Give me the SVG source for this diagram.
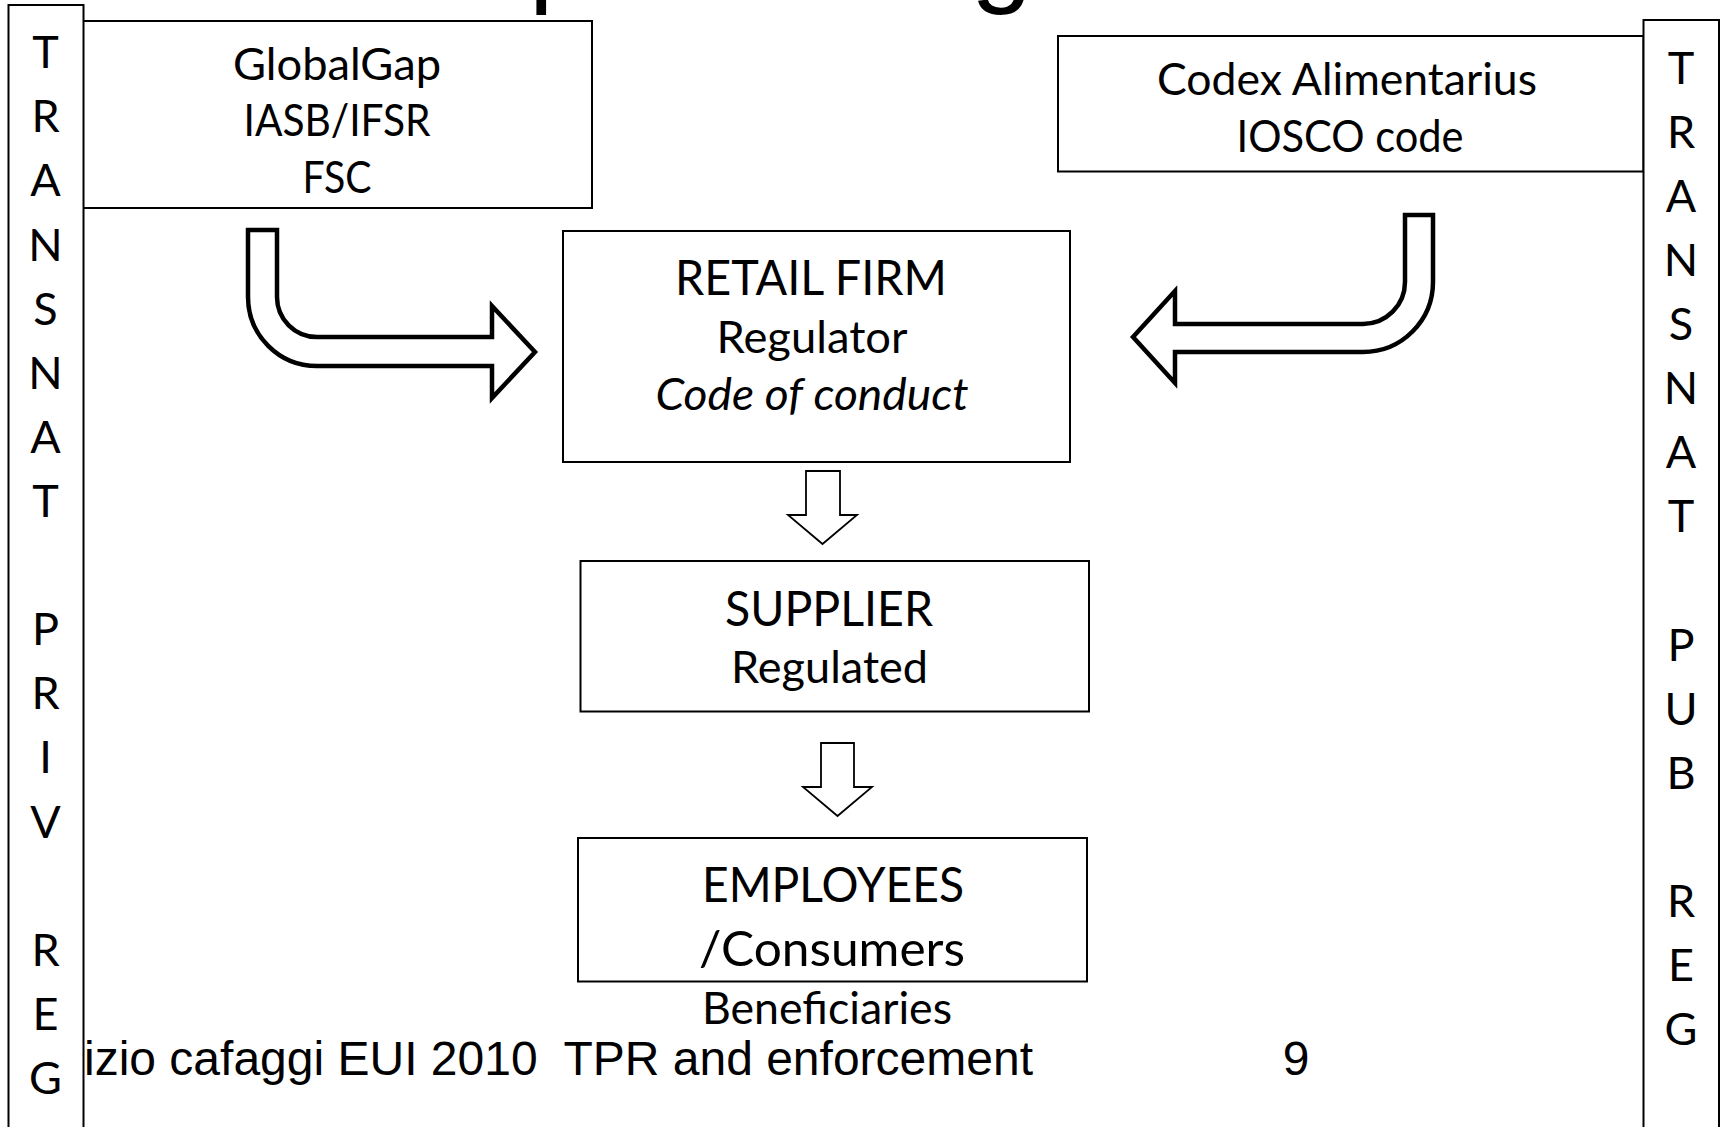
<svg xmlns="http://www.w3.org/2000/svg" width="1721" height="1127" viewBox="0 0 1721 1127">
<style>
  .box{fill:#fff;stroke:#000;stroke-width:2}
  .bar{fill:#fff;stroke:#000;stroke-width:2}
  .t{font-family:Lato,"Open Sans","DejaVu Sans",sans-serif;fill:#000;text-anchor:middle}
  .b{font-size:44px}
  .h{font-size:49px}
  .i{font-style:italic}
  .v{font-family:Lato,"Open Sans","DejaVu Sans",sans-serif;font-size:45px;fill:#000;text-anchor:middle}
  .ft{font-family:"Liberation Sans",Arial,sans-serif;font-size:48px;fill:#000}
  .title{font-family:"Liberation Sans",Arial,sans-serif;font-size:110px;fill:#000}
  .big{fill:#fff;stroke:#000;stroke-width:4.5;stroke-linejoin:miter}
  .small{fill:#fff;stroke:#000;stroke-width:1.8;stroke-linejoin:miter}
</style>
<rect x="0" y="0" width="1721" height="1127" fill="#fff"/>

<g id="title-fragment">
  <text class="title" y="-8"><tspan x="529">p</tspan><tspan x="971">g</tspan></text>
</g>

<g id="footer">
  <text class="ft" x="84" y="1075" xml:space="preserve">izio cafaggi EUI 2010  TPR and enforcement</text>
  <text class="ft" x="1296" y="1075" text-anchor="middle">9</text>
</g>

<g id="node-globalgap">
  <rect class="box" x="83" y="21" width="509" height="187"/>
  <text class="t b" x="337" y="80" textLength="208" lengthAdjust="spacingAndGlyphs">GlobalGap</text>
  <text class="t b" x="337" y="135.5" textLength="187" lengthAdjust="spacingAndGlyphs">IASB/IFSR</text>
  <text class="t b" x="337" y="192.5" textLength="69" lengthAdjust="spacingAndGlyphs">FSC</text>
</g>

<g id="node-codex">
  <rect class="box" x="1058" y="36" width="585.5" height="135.5"/>
  <text class="t b" x="1347" y="94.5" textLength="380" lengthAdjust="spacingAndGlyphs">Codex Alimentarius</text>
  <text class="t b" x="1350" y="151.5" textLength="227" lengthAdjust="spacingAndGlyphs">IOSCO code</text>
</g>

<g id="node-retail">
  <rect class="box" x="563" y="231" width="507" height="231"/>
  <text class="t h" x="811" y="294.5" textLength="272" lengthAdjust="spacingAndGlyphs">RETAIL FIRM</text>
  <text class="t b" x="812" y="352.5" textLength="191" lengthAdjust="spacingAndGlyphs">Regulator</text>
  <text class="t b i" x="812" y="410" textLength="313" lengthAdjust="spacingAndGlyphs">Code of conduct</text>
</g>

<g id="node-supplier">
  <rect class="box" x="580.5" y="561" width="508.5" height="150.5"/>
  <text class="t h" x="829" y="625.5" textLength="208" lengthAdjust="spacingAndGlyphs">SUPPLIER</text>
  <text class="t b" x="829.5" y="682.5" textLength="197" lengthAdjust="spacingAndGlyphs">Regulated</text>
</g>

<g id="node-employees">
  <rect class="box" x="578" y="838" width="509" height="143.5"/>
  <text class="t h" x="833" y="901.5" textLength="262" lengthAdjust="spacingAndGlyphs">EMPLOYEES</text>
  <text class="t h" x="832" y="965.5" textLength="266" lengthAdjust="spacingAndGlyphs">/Consumers</text>
</g>

<g id="label-beneficiaries">
  <text class="t b" x="827" y="1023.5" textLength="250" lengthAdjust="spacingAndGlyphs">Beneficiaries</text>
</g>

<g id="connectors">
  <path class="big" d="M248 230 L277 230 L277 297 A40 40 0 0 0 317 337 L492 337 L492 306 L535 352 L492 398 L492 366 L317 366 A69 69 0 0 1 248 297 Z"/>
  <path class="big" d="M1405 215 L1433 215 L1433 282 A70 70 0 0 1 1363 352 L1175 352 L1175 383 L1133 337 L1175 291 L1175 324 L1363 324 A42 42 0 0 0 1405 282 Z"/>
  <path class="small" d="M806 471 H840 V515 H857 L822.5 544 L788 515 H806 Z"/>
  <path class="small" d="M821 743 H854 V787 H872 L837.5 816 L803 787 H821 Z"/>
</g>

<g id="bar-transnat-priv-reg">
  <rect class="bar" x="8.5" y="5" width="75" height="1140"/>
  <text class="v" x="45.5" y="68">T</text>
  <text class="v" x="45.5" y="132">R</text>
  <text class="v" x="45.5" y="196">A</text>
  <text class="v" x="45.5" y="260.5">N</text>
  <text class="v" x="45.5" y="324.5">S</text>
  <text class="v" x="45.5" y="388.5">N</text>
  <text class="v" x="45.5" y="452.5">A</text>
  <text class="v" x="45.5" y="517">T</text>
  <text class="v" x="45.5" y="645">P</text>
  <text class="v" x="45.5" y="709">R</text>
  <text class="v" x="45.5" y="773">I</text>
  <text class="v" x="45.5" y="837.5">V</text>
  <text class="v" x="45.5" y="965.5">R</text>
  <text class="v" x="45.5" y="1029.5">E</text>
  <text class="v" x="45.5" y="1093.5">G</text>
</g>

<g id="bar-transnat-pub-reg">
  <rect class="bar" x="1643.5" y="20" width="75.5" height="1130"/>
  <text class="v" x="1681" y="83.5">T</text>
  <text class="v" x="1681" y="147.5">R</text>
  <text class="v" x="1681" y="211.5">A</text>
  <text class="v" x="1681" y="276">N</text>
  <text class="v" x="1681" y="340">S</text>
  <text class="v" x="1681" y="404">N</text>
  <text class="v" x="1681" y="468">A</text>
  <text class="v" x="1681" y="532">T</text>
  <text class="v" x="1681" y="660.5">P</text>
  <text class="v" x="1681" y="724.5">U</text>
  <text class="v" x="1681" y="788.5">B</text>
  <text class="v" x="1681" y="917">R</text>
  <text class="v" x="1681" y="981">E</text>
  <text class="v" x="1681" y="1045">G</text>
</g>
</svg>
